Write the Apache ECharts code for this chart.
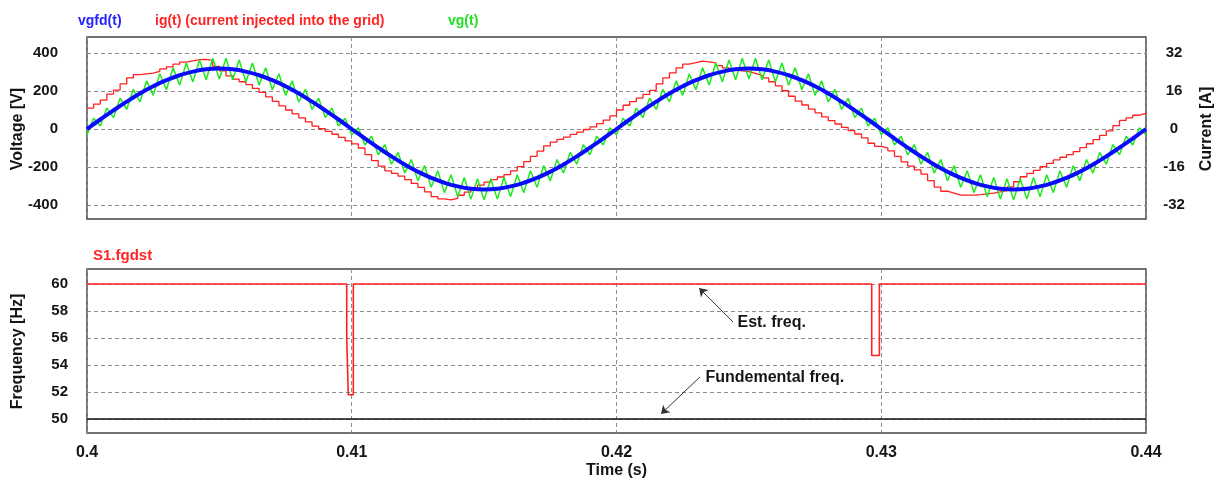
<!DOCTYPE html>
<html>
<head>
<meta charset="utf-8">
<script src="https://cdn.jsdelivr.net/npm/echarts@6/dist/echarts.min.js"></script>
<style>
  html, body { margin: 0; padding: 0; background: #fff; }
  #chart { width: 1225px; height: 486px; }
</style>
</head>
<body>
<div id="chart"></div>
<script>
// sample grid of the simulation traces (s)
const T_START = 0.4
const DT_FINE = 0.00025 // vg, ig
const DT_COARSE = 0.0005 // vgfd

// vgfd(t) [V], every 0.5 ms
const vgfdVals = [
  0, 50, 98, 144, 187, 225, 257, 283, 302, 314, 318, 314, 302, 283, 257, 225, 187, 144, 98, 50, 0,
  -50, -98, -144, -187, -225, -257, -283, -302, -314, -318, -314, -302, -283, -257, -225, -187, -144, -98, -50, 0,
  50, 98, 144, 187, 225, 257, 283, 302, 314, 318, 314, 302, 283, 257, 225, 187, 144, 98, 50, 0,
  -50, -98, -144, -187, -225, -257, -283, -302, -314, -318, -314, -302, -283, -257, -225, -187, -144, -98, -50, 0
]

// vg(t) [V], every 0.25 ms
const vgVals = [
  -30, 57, 16, 110, 60, 162, 103, 209, 142, 253, 177, 291, 207, 322, 231, 347, 248, 363, 259, 372,
  263, 372, 259, 363, 248, 347, 231, 322, 207, 291, 177, 253, 142, 209, 103, 162, 60, 110, 16, 57,
  -30, 7, -84, -38, -136, -82, -185, -123, -232, -161, -273, -193, -307, -220, -335, -241, -356, -255, -369, -262,
  -373, -262, -369, -255, -356, -241, -335, -220, -307, -193, -273, -161, -232, -123, -185, -82, -136, -38, -84, 7,
  -30, 57, 16, 110, 60, 162, 103, 209, 142, 253, 177, 291, 207, 322, 231, 347, 248, 363, 259, 372,
  263, 372, 259, 363, 248, 347, 231, 322, 207, 291, 177, 253, 142, 209, 103, 162, 60, 110, 16, 57,
  -30, 7, -84, -38, -136, -82, -185, -123, -232, -161, -273, -193, -307, -220, -335, -241, -356, -255, -369, -262,
  -373, -262, -369, -255, -356, -241, -335, -220, -307, -193, -273, -161, -232, -123, -185, -82, -136, -38, -84, 7,
  -30
]

// ig(t) [A], every 0.25 ms
const igVals = [
  8.8, 10.5, 12.2, 14.7, 16.4, 19.0, 21.5, 22.9, 23.2, 23.5,
  24.3, 25.3, 26.2, 27.3, 28.2, 28.7, 29.2, 29.3, 28.9, 26.4,
  24.5, 22.4, 21.0, 19.9, 18.7, 17.1, 15.4, 13.5, 11.6, 9.7,
  8.0, 6.4, 4.7, 3.0, 1.2, 0.1, -1.0, -2.2, -3.5, -5.0,
  -6.3, -8.0, -10.8, -13.3, -15.6, -17.6, -18.7, -19.8, -21.3, -22.9,
  -24.6, -26.5, -28.5, -29.4, -29.8, -29.2, -27.9, -26.6, -24.9, -23.6,
  -22.4, -21.3, -20.2, -19.2, -17.6, -15.8, -13.7, -11.5, -9.3, -7.1,
  -5.5, -4.4, -3.4, -2.3, -1.3, -0.2, 0.9, 2.3, 3.7, 5.5,
  8.0, 10.0, 11.5, 13.0, 14.6, 16.3, 19.0, 21.5, 23.6, 25.7,
  27.3, 27.9, 28.6, 28.3, 27.8, 26.7, 25.7, 24.8, 24.5, 24.2,
  23.4, 22.6, 21.5, 19.9, 18.2, 16.1, 13.8, 11.7, 10.1, 8.4,
  6.8, 5.1, 3.5, 2.1, 0.7, -0.7, -2.1, -3.7, -6.0, -7.3,
  -8.1, -9.2, -11.5, -13.8, -15.6, -17.2, -19.0, -21.7, -24.5, -26.2,
  -27.0, -27.8, -27.8, -27.8, -27.6, -27.3, -27.0, -26.5, -25.9, -24.4,
  -22.2, -20.1, -18.7, -17.4, -15.9, -14.5, -13.0, -11.9, -10.8, -9.5,
  -7.8, -6.2, -4.5, -2.7, -0.8, 1.4, 3.6, 4.7, 5.8, 6.6, 6.9
]

// S1.fgdst [Hz]
const fgTime = [0.4, 0.40981, 0.40981, 0.40987, 0.40987, 0.41006, 0.41006, 0.42964, 0.42964, 0.42993, 0.42993, 0.44]
const fgVals = [60, 60, 56, 56, 51.8, 51.8, 60, 60, 54.7, 54.7, 60, 60]

// fundamental frequency [Hz]
const fundTime = [0.4, 0.44]
const fundVals = [50, 50]

// axis ticks
const timeTicks = { min: 0.4, max: 0.44, step: 0.01 }
const voltTicks = { min: -400, max: 400, step: 200 }
const currTicks = { min: -32, max: 32, step: 16 }
const freqTicks = { min: 50, max: 60, step: 2 }

const FONT = "'Liberation Sans', Arial, sans-serif"
const TXT = '#151515'
const GRID_LINE = { show: true, lineStyle: { color: '#8c8c8c', type: [4, 3], width: 1 } }
const FRAME = '#444'

function pairs (times, vals) {
  return vals.map((v, i) => [times[i], v])
}
function grid (t0, dt, n) {
  const out = []
  for (let i = 0; i < n; i++) out.push(+(t0 + i * dt).toFixed(6))
  return out
}

const tFine = grid(T_START, DT_FINE, vgVals.length)
const tCoarse = grid(T_START, DT_COARSE, vgfdVals.length)

const hidden = { show: false }
const labelStyle = { color: TXT, fontFamily: FONT, fontWeight: 'bold', fontSize: 16 }
const yLabelStyle = { color: TXT, fontFamily: FONT, fontWeight: 'bold', fontSize: 15 }
const titleStyle = (color, size) => ({ color: color, fontFamily: FONT, fontWeight: 'bold', fontSize: size })
const gridBox = (top, height, frame) => ({
  left: 87, right: 79, top: top, height: height,
  outerBoundsMode: 'none', containLabel: false,
  show: !!frame, borderColor: FRAME, borderWidth: 1.5, backgroundColor: 'transparent'
})

const chart = echarts.init(document.getElementById('chart'))
const option = {
  animation: false,
  backgroundColor: '#fff',
  title: [
    { text: 'vgfd(t)', left: 73, top: 9, textStyle: titleStyle('#2323ff', 14) },
    { text: 'ig(t) (current injected into the grid)', left: 150, top: 9, textStyle: titleStyle('#ff2424', 14) },
    { text: 'vg(t)', left: 443, top: 9, textStyle: titleStyle('#22e022', 14) },
    { text: 'S1.fgdst', left: 88, top: 243, textStyle: titleStyle('#ff2424', 15) }
  ],
  grid: [
    gridBox(37, 182, true),
    gridBox(53, 152, false),
    gridBox(269, 164, true),
    gridBox(284, 135, false)
  ],
  xAxis: [
    {
      gridIndex: 0, type: 'value', min: timeTicks.min, max: timeTicks.max, interval: timeTicks.step,
      axisLine: hidden, axisTick: hidden, axisLabel: hidden, splitLine: GRID_LINE
    },
    { gridIndex: 1, type: 'value', min: timeTicks.min, max: timeTicks.max, show: false },
    {
      gridIndex: 2, type: 'value', min: timeTicks.min, max: timeTicks.max, interval: timeTicks.step,
      axisLine: hidden, axisTick: hidden, splitLine: GRID_LINE,
      axisLabel: Object.assign({ margin: 12, formatter: v => String(+v.toFixed(2)) }, labelStyle),
      name: 'Time (s)', nameLocation: 'middle', nameGap: 30,
      nameTextStyle: labelStyle
    },
    { gridIndex: 3, type: 'value', min: timeTicks.min, max: timeTicks.max, show: false }
  ],
  yAxis: [
    { gridIndex: 0, type: 'value', min: 0, max: 1, show: false },
    {
      gridIndex: 1, type: 'value', position: 'left',
      min: voltTicks.min, max: voltTicks.max, interval: voltTicks.step,
      axisLine: hidden, axisTick: hidden, splitLine: GRID_LINE,
      axisLabel: Object.assign({ margin: 29 }, yLabelStyle),
      name: 'Voltage [V]', nameLocation: 'middle', nameRotate: 90, nameGap: 61, nameMoveOverlap: false,
      nameTextStyle: labelStyle
    },
    {
      gridIndex: 1, type: 'value', position: 'right',
      min: currTicks.min, max: currTicks.max, interval: currTicks.step,
      axisLine: hidden, axisTick: hidden, splitLine: hidden,
      axisLabel: Object.assign({ margin: 28, align: 'center' }, yLabelStyle),
      name: 'Current [A]', nameLocation: 'middle', nameRotate: 90, nameGap: 53, nameMoveOverlap: false,
      nameTextStyle: labelStyle
    },
    { gridIndex: 2, type: 'value', min: 0, max: 1, show: false },
    {
      gridIndex: 3, type: 'value', position: 'left',
      min: freqTicks.min, max: freqTicks.max, interval: freqTicks.step,
      axisLine: hidden, axisTick: hidden, splitLine: GRID_LINE,
      axisLabel: Object.assign({ margin: 19 }, yLabelStyle),
      name: 'Frequency [Hz]', nameLocation: 'middle', nameRotate: 90, nameGap: 61, nameMoveOverlap: false,
      nameTextStyle: labelStyle
    }
  ],
  series: [
    {
      name: 'ig(t)', type: 'line', xAxisIndex: 1, yAxisIndex: 2,
      data: pairs(tFine, igVals), step: 'end', showSymbol: false,
      lineStyle: { color: '#ff2020', width: 1.3 }, itemStyle: { color: '#ff2020' }
    },
    {
      name: 'vg(t)', type: 'line', xAxisIndex: 1, yAxisIndex: 1,
      data: pairs(tFine, vgVals), showSymbol: false,
      lineStyle: { color: '#1ee81e', width: 1.5 }, itemStyle: { color: '#1ee81e' }
    },
    {
      name: 'vgfd(t)', type: 'line', xAxisIndex: 1, yAxisIndex: 1,
      data: pairs(tCoarse, vgfdVals), showSymbol: false, smooth: true,
      lineStyle: { color: '#0a0aff', width: 4 }, itemStyle: { color: '#0a0aff' }
    },
    {
      name: 'S1.fgdst', type: 'line', xAxisIndex: 3, yAxisIndex: 4, clip: false,
      data: pairs(fgTime, fgVals), showSymbol: false,
      lineStyle: { color: '#ff2020', width: 1.6 }, itemStyle: { color: '#ff2020' }
    },
    {
      name: 'fundamental', type: 'line', xAxisIndex: 3, yAxisIndex: 4, clip: false,
      data: pairs(fundTime, fundVals), showSymbol: false,
      lineStyle: { color: '#111', width: 1.6 }, itemStyle: { color: '#111' },
      markLine: {
        silent: true, symbol: ['none', 'arrow'], symbolSize: 8, animation: false,
        lineStyle: { color: '#333', width: 1, type: 'solid' },
        label: { show: false },
        data: [
          [{ coord: [0.4244, 57.19] }, { coord: [0.42312, 59.7] }],
          [{ coord: [0.42315, 53.11] }, { coord: [0.42168, 50.37] }]
        ]
      },
      markPoint: {
        silent: true, symbol: 'circle', symbolSize: 1, animation: false,
        itemStyle: { color: 'rgba(0,0,0,0)' },
        label: { show: true, position: 'right', distance: 0, formatter: '{b}', color: TXT, fontFamily: FONT, fontWeight: 'bold', fontSize: 16 },
        data: [
          { name: 'Est. freq.', coord: [0.42455, 57.11] },
          { name: 'Fundemental freq.', coord: [0.42334, 53.04] }
        ]
      }
    }
  ]
}
chart.setOption(option)
</script>
</body>
</html>
